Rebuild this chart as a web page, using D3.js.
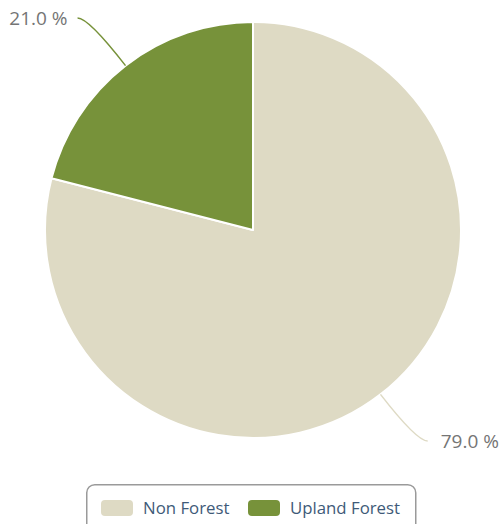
<!DOCTYPE html>
<html>
<head>
<meta charset="utf-8">
<script src="https://cdn.jsdelivr.net/npm/d3@7"></script>
<style>
body{margin:0;background:#fff;}
svg{display:block;font-family:"Open Sans",sans-serif;}
</style>
</head>
<body>
<div id="chart"></div>
<script>
var categories = ["Non Forest", "Upland Forest"];
var values = [79.0, 21.0];
var colors = ["#dedac4", "#77923a"];

var width = 504, height = 524;
var cx = 253, cy = 230, r = 208;

var svg = d3.select("#chart").append("svg")
    .attr("width", width)
    .attr("height", height);

var data = categories.map(function(c, i){ return {name: c, value: values[i], color: colors[i]}; });

var pie = d3.pie().sort(null).value(function(d){ return d.value; });
var arc = d3.arc().innerRadius(0).outerRadius(r);
var arcs = pie(data);

var g = svg.append("g").attr("transform", "translate(" + cx + "," + cy + ")");

g.selectAll("path.slice")
    .data(arcs)
    .enter()
    .append("path")
    .attr("class", "slice")
    .attr("d", arc)
    .attr("fill", function(d){ return d.data.color; })
    .attr("stroke", "#fff")
    .attr("stroke-width", 2)
    .attr("stroke-linejoin", "round");

// connectors + labels
var labelY = [211, -212];
arcs.forEach(function(d, i){
    var mid = (d.startAngle + d.endAngle) / 2;
    var sx = Math.sin(mid), sy = -Math.cos(mid);
    var p0 = [sx * r, sy * r];
    var ly = labelY[i];
    var t = (ly - p0[1]) / sy;
    var ctrl = [p0[0] + sx * t, ly];
    var side = sx > 0 ? 1 : -1;
    var end = [ctrl[0] + side * 11, ly];
    g.append("path")
        .attr("d", "M" + p0 + "Q" + ctrl + " " + end)
        .attr("fill", "none")
        .attr("stroke", d.data.color)
        .attr("stroke-width", 1.5);
    g.append("text")
        .attr("x", end[0] + side * (side > 0 ? 13 : 10))
        .attr("y", ly)
        .attr("dy", "0.35em")
        .attr("text-anchor", side > 0 ? "start" : "end")
        .attr("fill", "#757575")
        .style("font-size", "19px")
        .text(d3.format(".1f")(d.data.value) + " %");
});

// legend
var legend = svg.append("g").attr("transform", "translate(86,484)");
legend.append("rect")
    .attr("x", 0.75).attr("y", 0.75)
    .attr("width", 329).attr("height", 50)
    .attr("rx", 8)
    .attr("fill", "#fff")
    .attr("stroke", "#9a9a9a")
    .attr("stroke-width", 1.5);

var itemX = [15, 162];
var items = legend.selectAll("g.item")
    .data(data)
    .enter()
    .append("g")
    .attr("class", "item")
    .attr("transform", function(d, i){ return "translate(" + itemX[i] + ",16)"; });
items.append("rect")
    .attr("width", 32).attr("height", 16)
    .attr("rx", 4)
    .attr("fill", function(d){ return d.color; });
items.append("text")
    .attr("x", 42)
    .attr("y", 8)
    .attr("dy", "0.35em")
    .attr("fill", "#3e5a78")
    .style("font-size", "16.8px")
    .text(function(d){ return d.name; });
</script>
</body>
</html>
